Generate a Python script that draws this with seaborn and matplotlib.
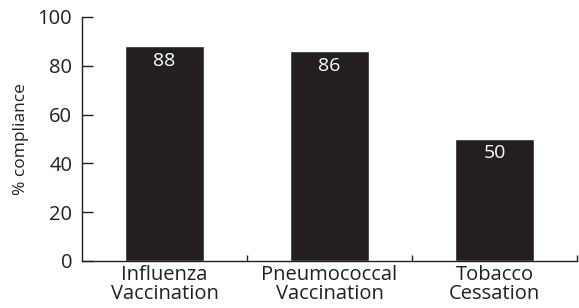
import matplotlib
matplotlib.use("Agg")
import matplotlib.pyplot as plt
import seaborn as sns

# data
categories = ["Influenza\nVaccination", "Pneumococcal\nVaccination", "Tobacco\nCessation"]
compliance = [88, 86, 50]

sns.set_style("ticks")
plt.rcParams["font.family"] = ["Open Sans", "DejaVu Sans"]

fig = plt.figure(figsize=(5.79, 3.08), dpi=100)
ax = fig.add_axes([82 / 579, 1 - 261 / 308, 495 / 579, 244 / 308])

sns.barplot(x=categories, y=compliance, color="#231f20", saturation=1,
            width=0.48, ax=ax)

for i, v in enumerate(compliance):
    ax.text(i, v - 2.2, str(v), ha="center", va="top", color="white", fontsize=14)

ax.set_ylim(0, 100)
ax.set_xlim(-0.5, 2.5)
ax.set_yticks([0, 20, 40, 60, 80, 100])
ax.tick_params(axis="y", direction="in", length=8, width=1, pad=7,
               labelsize=14.5, colors="#231f20")
ax.tick_params(axis="x", which="major", length=0, pad=3, labelsize=14.5,
               colors="#231f20")
ax.set_xticks([0.5, 1.5, 2.5], minor=True)
ax.tick_params(axis="x", which="minor", direction="in", length=4, width=1, color="#231f20")
for lab in ax.get_xticklabels():
    lab.set_linespacing(0.95)

ax.set_ylabel("% compliance", fontsize=12.5, color="#231f20", labelpad=6)
ax.set_xlabel("")
sns.despine(ax=ax)
for s in ["left", "bottom"]:
    ax.spines[s].set_color("#231f20")
    ax.spines[s].set_linewidth(1)

fig.savefig("out.png", dpi=100)
